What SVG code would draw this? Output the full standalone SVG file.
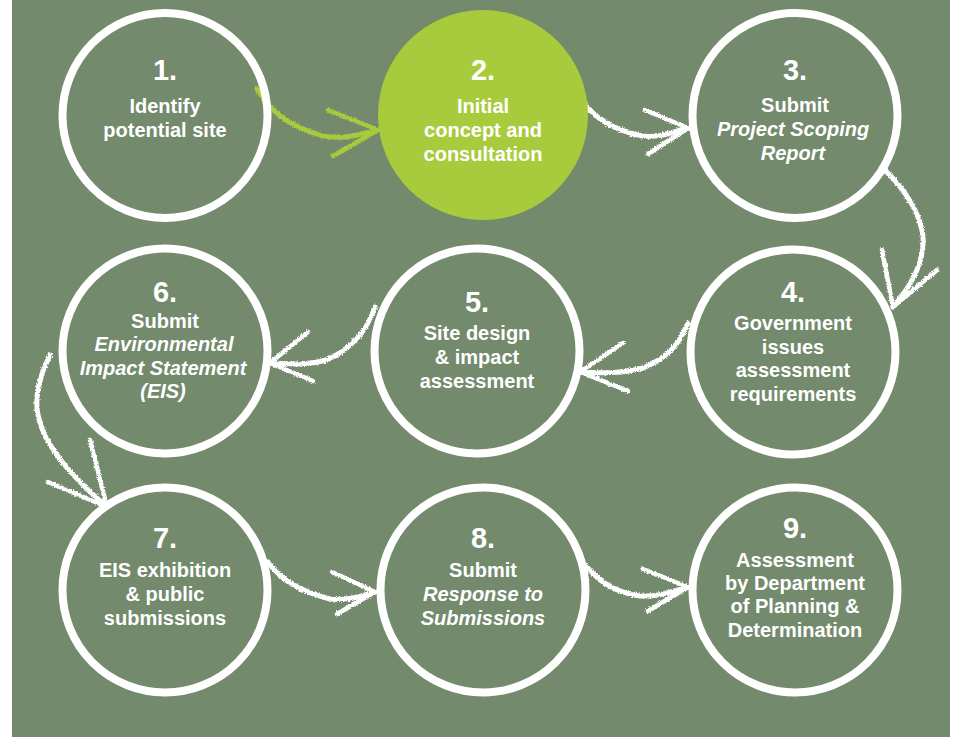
<svg xmlns="http://www.w3.org/2000/svg" width="957" height="738" viewBox="0 0 957 738">
<style>
.ring{fill:none;stroke:#ffffff;stroke-width:8}
.fillc{fill:#A7CB3D}
.num{font-family:"Liberation Sans",Arial,sans-serif;font-weight:bold;font-size:29px;fill:#ffffff;text-anchor:middle}
.lbl{font-family:"Liberation Sans",Arial,sans-serif;font-weight:bold;font-size:20px;fill:#ffffff;text-anchor:middle}
.it{font-style:italic}
.arr{fill:none;stroke:#ffffff;stroke-linecap:round;stroke-linejoin:round}
.arr.g{stroke:#A7CB3D}
.shaft{stroke-width:5}
.barb{stroke-width:4.5}
</style>
<defs>
<filter id="chalk" x="-10%" y="-10%" width="120%" height="120%">
<feTurbulence type="fractalNoise" baseFrequency="0.8" numOctaves="2" seed="3" result="n"/>
<feDisplacementMap in="SourceGraphic" in2="n" scale="3.5" xChannelSelector="R" yChannelSelector="G"/>
</filter>
</defs>
<rect x="0" y="0" width="957" height="738" fill="#ffffff"/>
<rect x="12" y="0" width="938" height="737" fill="#738A6D"/>

<g id="connectors" filter="url(#chalk)">
<g class="arr g"><path class="shaft" d="M257,89 C270,110 285,125 323,136 C345,140 360,134 378,130"/><path class="barb" d="M328,110 L378,130 L333,156"/></g>
<g class="arr"><path class="shaft" d="M583,102 C595,118 612,130 643,136 C660,138 672,132 688,128"/><path class="barb" d="M645,110 L688,128 L648,154"/></g>
<g class="arr"><path class="shaft" d="M885,170 C905,190 920,212 923,236 C925,262 912,285 893,307"/><path class="barb" d="M882,250 L893,307 L937,270"/></g>
<g class="arr"><path class="shaft" d="M688,323 C680,342 670,357 643,368 C620,374 600,373 580,372"/><path class="barb" d="M623,343 L580,372 L628,391"/></g>
<g class="arr"><path class="shaft" d="M375,307 C368,328 355,347 327,360 C305,366 288,364 270,363"/><path class="barb" d="M308,332 L270,363 L313,381"/></g>
<g class="arr"><path class="shaft" d="M50,355 C40,375 34,395 38,415 C44,445 70,475 107,507"/><path class="barb" d="M90,440 L107,507 L48,482"/></g>
<g class="arr"><path class="shaft" d="M268,562 C280,578 295,590 330,599 C348,601 362,596 375,592"/><path class="barb" d="M332,572 L375,592 L337,614"/></g>
<g class="arr"><path class="shaft" d="M585,565 C598,580 612,592 640,596 C660,597 673,591 688,587"/><path class="barb" d="M643,569 L688,587 L648,611"/></g>
</g>

<g id="node1"><circle class="ring" cx="165" cy="115.5" r="102.5"/>
<text class="num" x="165" y="80">1.</text>
<text class="lbl" x="165" y="113">Identify</text>
<text class="lbl" x="165" y="137">potential site</text></g>

<g id="node2"><circle class="fillc" cx="483" cy="115" r="105"/>
<text class="num" x="483" y="80">2.</text>
<text class="lbl" x="483" y="113">Initial</text>
<text class="lbl" x="483" y="137">concept and</text>
<text class="lbl" x="483" y="161">consultation</text></g>

<g id="node3"><circle class="ring" cx="795" cy="115.5" r="102.5"/>
<text class="num" x="795" y="80">3.</text>
<text class="lbl" x="795" y="112">Submit</text>
<text class="lbl it" x="793" y="136">Project Scoping</text>
<text class="lbl it" x="793" y="160">Report</text></g>

<g id="node4"><circle class="ring" cx="793" cy="352" r="102.5"/>
<text class="num" x="793" y="302">4.</text>
<text class="lbl" x="793" y="330">Government</text>
<text class="lbl" x="793" y="354">issues</text>
<text class="lbl" x="793" y="377">assessment</text>
<text class="lbl" x="793" y="401">requirements</text></g>

<g id="node5"><circle class="ring" cx="477" cy="351" r="102.5"/>
<text class="num" x="477" y="312">5.</text>
<text class="lbl" x="477" y="340">Site design</text>
<text class="lbl" x="477" y="364">&amp; impact</text>
<text class="lbl" x="477" y="388">assessment</text></g>

<g id="node6"><circle class="ring" cx="165" cy="351" r="102.5"/>
<text class="num" x="165" y="302">6.</text>
<text class="lbl" x="165" y="328">Submit</text>
<text class="lbl it" x="164" y="351">Environmental</text>
<text class="lbl it" x="163" y="375">Impact Statement</text>
<text class="lbl it" x="163" y="398">(EIS)</text></g>

<g id="node7"><circle class="ring" cx="165" cy="590" r="102.5"/>
<text class="num" x="165" y="548">7.</text>
<text class="lbl" x="165" y="577">EIS exhibition</text>
<text class="lbl" x="165" y="601">&amp; public</text>
<text class="lbl" x="165" y="625">submissions</text></g>

<g id="node8"><circle class="ring" cx="483" cy="590" r="102.5"/>
<text class="num" x="483" y="548">8.</text>
<text class="lbl" x="483" y="577">Submit</text>
<text class="lbl it" x="483" y="601">Response to</text>
<text class="lbl it" x="483" y="625">Submissions</text></g>

<g id="node9"><circle class="ring" cx="795" cy="590" r="102.5"/>
<text class="num" x="795" y="538">9.</text>
<text class="lbl" x="795" y="567">Assessment</text>
<text class="lbl" x="795" y="590">by Department</text>
<text class="lbl" x="795" y="613">of Planning &amp;</text>
<text class="lbl" x="795" y="637">Determination</text></g>
</svg>
